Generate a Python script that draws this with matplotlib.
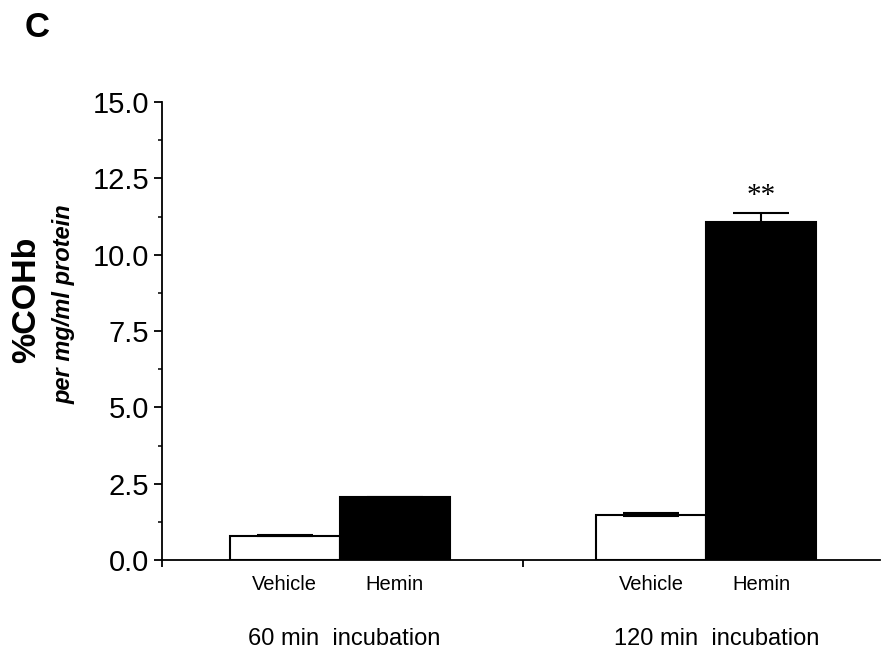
import matplotlib
matplotlib.use("Agg")
import matplotlib.pyplot as plt
from matplotlib.ticker import MultipleLocator, FormatStrFormatter

plt.rcParams["font.family"] = ["Liberation Sans", "DejaVu Sans"]

groups = ["60 min  incubation", "120 min  incubation"]
treatments = ["Vehicle", "Hemin"]
vehicle_mean = [0.80, 1.48]
vehicle_err = [0.02, 0.05]
hemin_mean = [2.05, 11.07]
hemin_err = [0.02, 0.30]
significance = ["", "**"]

W, H = 881, 649
fig = plt.figure(figsize=(W / 100, H / 100), dpi=100)
ax = fig.add_axes([162 / W, 89 / H, 718 / W, 458 / H])

centers = [1.0, 3.0]
width = 0.6
x_left = 0.03
veh_x = [c - width / 2 for c in centers]
hem_x = [c + width / 2 for c in centers]

err_kw = dict(ecolor="black", elinewidth=1.5, capsize=20, capthick=1.5)
ax.bar(veh_x, vehicle_mean, width, yerr=vehicle_err, color="white",
       edgecolor="black", linewidth=1.5, error_kw=err_kw, zorder=2)
ax.bar(hem_x, hemin_mean, width, yerr=hemin_err, color="black",
       edgecolor="black", linewidth=1.5, error_kw=err_kw, zorder=2)

for x, m, e, s in zip(hem_x, hemin_mean, hemin_err, significance):
    if s:
        ax.text(x, m + e + 0.12, s, ha="center", va="bottom", fontsize=21,
                family="Liberation Serif")

ax.set_xlim(x_left, 3.95)
ax.set_ylim(0, 15)
ax.set_xticks([x_left, 2.0])
ax.set_xticklabels([])
ax.tick_params(axis="x", direction="out", length=5, width=1.3)

ax.yaxis.set_major_locator(MultipleLocator(2.5))
ax.yaxis.set_minor_locator(MultipleLocator(1.25))
ax.yaxis.set_major_formatter(FormatStrFormatter("%.1f"))
ax.tick_params(axis="y", which="major", direction="out", length=6, width=1.3,
               pad=3, labelsize=21)
ax.tick_params(axis="y", which="minor", direction="out", length=3, width=1.1)

for side in ["top", "right"]:
    ax.spines[side].set_visible(False)
for side in ["left", "bottom"]:
    ax.spines[side].set_linewidth(1.3)

trans = ax.get_xaxis_transform()
for vx, hx in zip(veh_x, hem_x):
    ax.text(vx, -0.0655, treatments[0], transform=trans, ha="center",
            va="baseline", fontsize=14.5)
    ax.text(hx, -0.0655, treatments[1], transform=trans, ha="center",
            va="baseline", fontsize=14.5)
for c, g in zip(centers, groups):
    ax.text(c - 0.5, -0.1856, g, transform=trans, ha="left",
            va="baseline", fontsize=17)

fig.text(27 / W, 1 - 300 / H, "%COHb", rotation=90, ha="center",
         va="center", fontsize=24.5, fontweight="bold")
fig.text(64 / W, 1 - 304 / H, "per mg/ml protein", rotation=90, ha="center",
         va="center", fontsize=17, fontweight="bold", fontstyle="italic")
fig.text(25 / W, 1 - 37 / H, "C", ha="left", va="baseline", fontsize=25,
         fontweight="bold")

fig.savefig("out.png", dpi=100)
